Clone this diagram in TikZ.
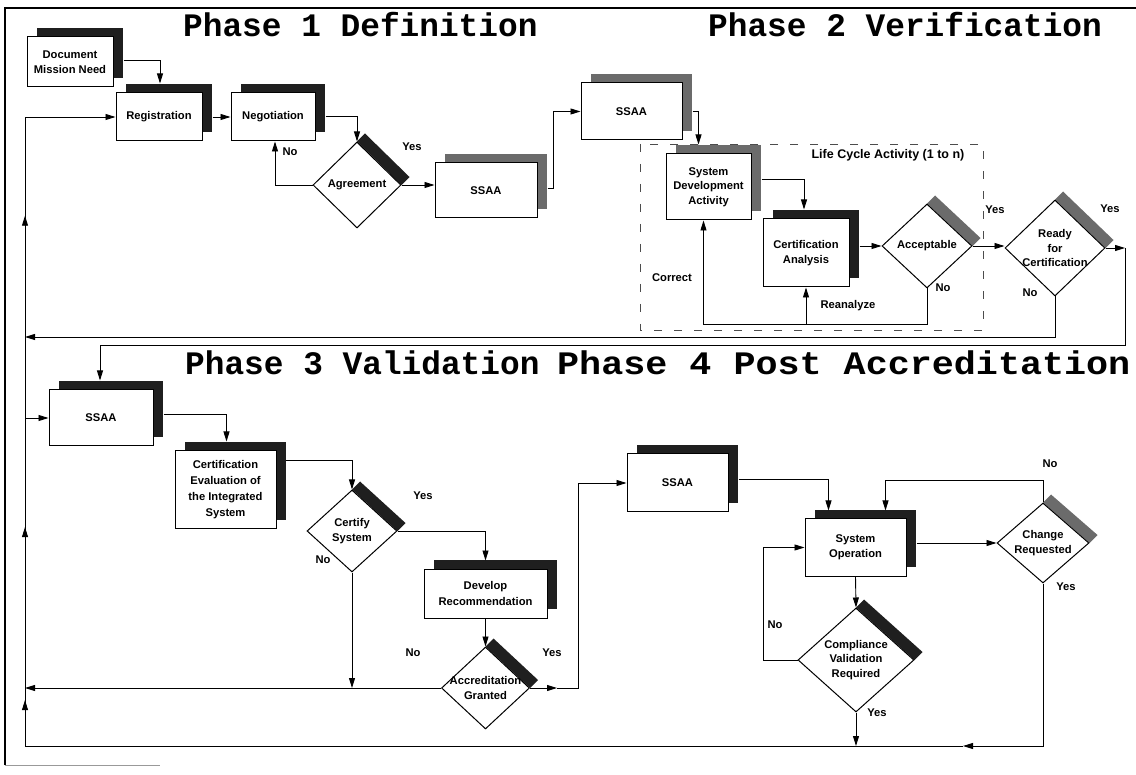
\documentclass[tikz,border=0pt]{standalone}
\usepackage{fontspec}
\newfontfamily\sansf{Liberation Sans}
\newfontfamily\monof{Liberation Mono}
\newfontfamily\monofw{Liberation Mono}[FakeStretch=1.12]
\usetikzlibrary{shapes.geometric,arrows.meta,calc,shadows,backgrounds,decorations.markings}
\begin{document}
\begin{tikzpicture}[x=1pt,y=-1pt,
  box/.style={draw, fill=white, line width=1pt, align=center, inner sep=1pt, font=\sansf\bfseries\fontsize{11.2}{14.5}\selectfont},
  dsh/.style={drop shadow={shadow xshift=10pt,shadow yshift=9pt,fill=black!88,opacity=1}},
  gsh/.style={drop shadow={shadow xshift=10pt,shadow yshift=9pt,fill=black!58,opacity=1}},
  dia/.style={draw, fill=white, shape=diamond, line width=1pt, inner sep=0pt},
  dlab/.style={align=center, inner sep=0pt, font=\sansf\bfseries\fontsize{11.2}{14.5}\selectfont},
  lbl/.style={inner sep=0pt, font=\sansf\bfseries\fontsize{11.2}{13}\selectfont},
  conn/.style={line width=0.9pt},
  arr/.style={conn, -{Triangle[length=10pt,width=6pt]}},
  title/.style={inner sep=0pt, anchor=base west, font=\monof\bfseries\fontsize{32.8}{34}\selectfont},
  lcbox/.style={draw=black!70, line width=0.8pt, dash pattern=on 8pt off 12pt},
  bandd/.style={fill=black!88},
  bandg/.style={fill=black!58}
]
\useasboundingbox (0,0) rectangle (1136,775);

% frame
\draw[line width=2.2pt] (5,765) -- (5,8) -- (1136,8);
\draw[black!40, line width=0.8pt] (5,765) -- (160,765);

% titles
\node[title] (t1) at (183,37) {Phase 1 Definition};
\node[title] (t2) at (708,37) {Phase 2 Verification};
\node[title] (t3) at (185,375) {Phase 3 Validation};
\node[title, font=\monofw\bfseries\fontsize{32.8}{34}\selectfont] (t4) at (557,375) {Phase 4 Post Accreditation};

% life cycle region
\draw[lcbox] (640,144) rectangle (983,330);
\node[inner sep=0pt, font=\sansf\bfseries\fontsize{12.5}{14}\selectfont] (lcl) at (888,155) {Life Cycle Activity (1 to n)};

% phase 1 / 2 nodes
\node[box,dsh,minimum width=86pt,minimum height=50pt] (doc) at (70,62) {Document\\Mission Need};
\node[box,dsh,minimum width=86pt,minimum height=48pt] (reg) at (159,117) {Registration};
\node[box,dsh,minimum width=84pt,minimum height=48pt] (neg) at (273,117) {Negotiation};
\node[dia,minimum width=88pt,minimum height=86pt,label={[dlab]center:Agreement}] (agree) at (357,185) {};
\node[box,gsh,minimum width=102pt,minimum height=55pt] (ssaa1) at (486,190.5) {SSAA};
\node[box,gsh,minimum width=101pt,minimum height=57pt] (ssaa2) at (631.5,111.5) {SSAA};
\node[box,gsh,minimum width=85pt,minimum height=66pt] (sda) at (708.5,187) {System\\Development\\Activity};
\node[box,dsh,minimum width=86pt,minimum height=68pt] (cert) at (806,253) {Certification\\Analysis};
\node[dia,minimum width=90pt,minimum height=84pt,label={[dlab]center:Acceptable}] (accept) at (927,246) {};
\node[dia,minimum width=100pt,minimum height=96pt,label={[dlab]center:Ready\\for\\Certification}] (ready) at (1055,248) {};

% phase 3 / 4 nodes
\node[box,dsh,minimum width=104pt,minimum height=56pt] (ssaa3) at (101,418) {SSAA};
\node[box,dsh,minimum width=101pt,minimum height=78pt,font=\sansf\bfseries\fontsize{11.2}{16}\selectfont] (certeval) at (225.5,490) {Certification\\Evaluation of\\the Integrated\\System};
\node[dia,minimum width=90pt,minimum height=82pt,label={[dlab]center:Certify\\System}] (certify) at (352,531) {};
\node[box,dsh,minimum width=123pt,minimum height=49pt,font=\sansf\bfseries\fontsize{11.2}{16}\selectfont] (devrec) at (485.5,593.5) {Develop\\Recommendation};
\node[dia,minimum width=88pt,minimum height=82pt,label={[dlab]center:Accreditation\\Granted}] (accred) at (485.5,688) {};
\node[box,dsh,minimum width=101pt,minimum height=58pt] (ssaa4) at (677.5,483) {SSAA};
\node[box,dsh,minimum width=101pt,minimum height=57pt] (sysop) at (855.5,547.5) {System\\Operation};
\node[dia,minimum width=92pt,minimum height=80pt,label={[dlab]center:Change\\Requested}] (change) at (1043,543) {};
\node[dia,minimum width=116pt,minimum height=104pt,label={[dlab]center:Compliance\\Validation\\Required}] (compl) at (856,660) {};

% diamond shadow bands
\begin{scope}[on background layer]
\foreach \d/\s in {agree/bandd, accept/bandg, ready/bandg, certify/bandd, accred/bandd, change/bandg, compl/bandd}{
  \fill[\s] (\d.north) -- (\d.east) -- ($(\d.east)+(8,-8)$) -- ($(\d.north)+(8,-8)$) -- cycle;
}
\end{scope}

% coordinates
\coordinate (busTop) at (25,117);
\coordinate (busBot) at (25,746);
\coordinate (cArr) at (963,746);
\coordinate (rR) at (1125,248);
\coordinate (rB) at (1125,345);
\coordinate (noR) at (25,337);
\coordinate (acR) at (557,688);
\coordinate (acB) at (578,688);
\coordinate (accNo) at ($(accept.south)+(0,36)$);

% connectors phase 1 / 2
\draw[arr] ($(doc.east)+(10,-2)$) -| ($(reg.north)+(1,-9)$);
\draw[arr] (busTop) -- (reg.west);
\draw[arr] ($(reg.east)+(10,0)$) -- (neg.west);
\draw[arr] ($(neg.east)+(10,-1)$) -| (agree.north);
\draw[arr] (agree.west) -| ($(neg.south)+(2,0)$);
\draw[arr] (agree.east) -- (agree.east -| ssaa1.west);
\draw[arr] ($(ssaa1.east)+(10,-2)$) -- ++(6,0) |- (ssaa2.west);
\draw[arr] ($(ssaa2.east)+(10,0)$) -| ($(sda.north)+(-10,-9)$);
\draw[arr] ($(sda.east)+(10,-8)$) -| ($(cert.north)+(-2,-9)$);
\draw[arr] ($(accept.west -| cert.east)+(10,0)$) -- (accept.west);
\draw[arr] (accept.east) -- (accept.east -| ready.west);
\draw[arr] (ready.east) -- (rR);
\draw[arr] (rR) -- (rB) -| ($(ssaa3.north)+(-1,-9)$);
\draw[arr] (ready.south) |- (noR);
\draw[arr] (accept.south) -- (accNo) -| ($(sda.south)+(-5,0)$);
\draw[arr] (accNo -| cert.south) -- (cert.south);

% connectors phase 3 / 4
\draw[arr] (ssaa3.west -| busTop) -- (ssaa3.west);
\draw[arr] ($(ssaa3.east)+(10,-4)$) -| ($(certeval.north)+(1,-9)$);
\draw[arr] ($(certeval.east)+(9,-30)$) -| (certify.north);
\draw[arr] (certify.east) -| ($(devrec.north)+(0,-8)$);
\draw[arr] (certify.south) -- (certify.south |- accred.west);
\draw[arr] (devrec.south) -- (accred.north);
\draw[arr] (accred.west) -- (accred.west -| busTop);
\draw[arr] (accred.east) -- (acR);
\draw[arr] (acR) -- (acB) |- (ssaa4.west);
\draw[arr] ($(ssaa4.east)+(10,-4)$) -| ($(sysop.north)+(-27,-8)$);
\draw[arr] ($(change.west -| sysop.east)+(10,0)$) -- (change.west);
\draw[arr] (change.north) -- ++(0,-22) -| ($(sysop.north)+(30,-8)$);
\draw[arr] (sysop.south) -- (compl.north);
\draw[arr] (compl.west) -- ++(-34,0) |- (sysop.west);
\draw[arr] (compl.south) -- (compl.south |- busBot);
\draw[arr] (change.south) |- (cArr);
\draw[conn] (cArr) -- (busBot);
\draw[conn, postaction={decorate}, decoration={markings,
   mark=at position 0.073 with {\arrow{Triangle[length=10pt,width=6pt]}},
   mark=at position 0.348 with {\arrow{Triangle[length=10pt,width=6pt]}},
   mark=at position 0.843 with {\arrow{Triangle[length=10pt,width=6pt]}}}] (busBot) -- (busTop);

% labels
\node[lbl] (l1) at (290,152) {No};
\node[lbl] (l2) at (412,147) {Yes};
\node[lbl] (l3) at (672,278) {Correct};
\node[lbl] (l4) at (848,306) {Reanalyze};
\node[lbl] (l5) at (943,288) {No};
\node[lbl] (l6) at (995,210) {Yes};
\node[lbl] (l7) at (1030,293) {No};
\node[lbl] (l8) at (1110,209) {Yes};
\node[lbl] (l9) at (423,496) {Yes};
\node[lbl] (l10) at (323,560) {No};
\node[lbl] (l11) at (413,653) {No};
\node[lbl] (l12) at (552,653) {Yes};
\node[lbl] (l13) at (1050,464) {No};
\node[lbl] (l14) at (1066,587) {Yes};
\node[lbl] (l15) at (775,625) {No};
\node[lbl] (l16) at (877,713) {Yes};
\end{tikzpicture}
\end{document}
